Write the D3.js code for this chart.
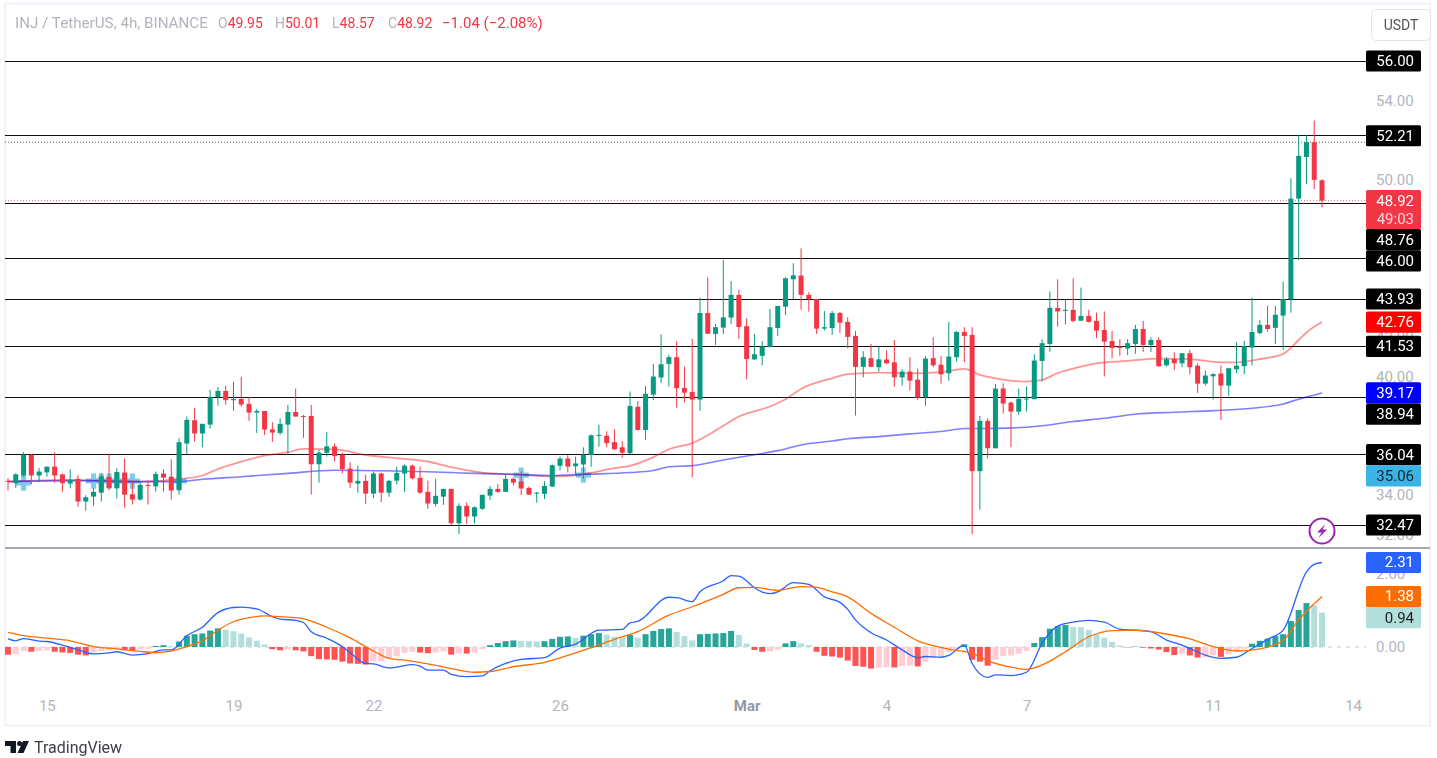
<!DOCTYPE html>
<html>
<head>
<meta charset="utf-8">
<script src="https://cdn.jsdelivr.net/npm/d3@7"></script>
<style>
  html, body { margin: 0; padding: 0; background: #fff; }
  svg { display: block; font-family: Roboto, sans-serif; filter: blur(0.4px); }
</style>
</head>
<body>
<div id="chart"></div>
<script>
// 4h candles
var open = [
  34.71,34.59,34.98,36.04,34.98,35.14,35.43,35.03,34.57,34.81,
  33.66,33.91,34.11,34.91,34.35,35.13,34.03,33.76,34.50,34.43,
  35.08,34.92,34.23,36.60,37.78,37.11,37.56,38.96,39.27,38.80,
  38.86,38.61,38.17,38.25,37.32,37.14,37.56,38.20,38.00,38.00,
  35.55,36.13,36.45,36.04,35.33,34.57,34.71,34.06,35.08,34.11,
  34.72,35.08,35.48,34.86,34.15,33.54,33.91,34.30,32.56,33.44,
  32.90,33.29,33.96,34.30,34.15,34.81,34.67,34.35,34.08,34.05,
  34.42,35.47,35.84,35.45,35.54,36.02,37.00,37.00,36.67,36.41,
  36.11,38.46,37.29,39.08,39.95,40.64,40.98,39.42,39.22,38.83,
  43.22,42.16,42.48,42.99,44.14,42.55,40.87,41.05,41.50,42.46,
  43.54,44.93,45.12,44.14,43.93,42.43,42.46,43.22,42.77,42.06,
  40.49,40.93,40.47,40.86,40.72,39.96,40.25,39.84,38.95,40.93,
  40.60,40.16,40.98,42.26,42.11,35.20,37.75,36.36,39.39,38.68,
  38.22,38.83,38.85,40.79,41.65,43.48,43.33,43.38,42.83,43.07,
  42.82,42.36,41.80,41.52,41.42,41.65,42.41,41.60,41.85,40.57,
  40.88,40.67,41.18,40.55,39.64,40.01,40.15,39.54,40.37,40.52,
  41.47,42.20,42.62,42.47,43.09,43.92,49.02,51.13,51.88,49.95];
var high = [
  34.84,35.09,36.16,36.04,35.35,35.43,36.16,35.09,35.30,35.01,
  33.98,34.33,35.09,36.06,35.35,35.84,34.67,34.67,34.72,35.18,
  35.30,35.80,36.87,37.97,38.41,37.60,39.32,39.47,39.54,39.74,
  39.99,38.95,38.36,38.25,37.68,37.88,38.56,39.39,38.05,38.56,
  36.28,37.19,36.61,36.14,35.65,35.48,35.03,35.18,35.13,34.76,
  35.43,35.54,35.54,35.43,34.72,34.82,34.30,34.30,33.57,33.62,
  33.41,34.00,34.45,34.55,35.01,34.86,35.18,34.42,34.15,34.69,
  35.54,35.94,36.01,35.94,36.41,37.06,37.55,37.22,37.33,36.72,
  39.24,38.76,39.52,40.64,42.14,41.10,41.79,40.50,41.91,44.00,
  45.03,42.66,45.91,44.83,44.39,42.95,42.16,41.80,43.42,43.58,
  45.03,45.74,46.50,44.27,43.93,43.32,43.32,43.27,43.00,42.31,
  41.28,41.65,41.52,41.33,41.85,40.37,40.98,40.40,41.03,41.99,
  41.03,42.77,42.31,42.50,42.50,38.00,37.88,39.62,39.66,38.73,
  39.39,39.49,41.13,41.89,44.31,44.93,43.92,44.98,44.51,43.38,
  43.24,43.30,42.31,41.89,41.89,42.62,42.82,41.99,41.99,40.98,
  41.23,41.18,41.35,40.67,40.30,40.17,40.55,40.45,41.74,41.81,
  44.00,42.87,43.60,43.58,44.81,50.05,52.25,52.25,52.98,50.01];
var low = [
  34.22,34.35,34.92,34.54,34.64,34.92,34.62,34.16,34.33,33.40,
  33.20,33.45,33.66,34.22,33.81,33.35,33.51,33.71,33.51,34.16,
  34.16,33.76,34.01,36.04,36.70,36.41,37.36,38.52,38.58,38.27,
  38.47,37.75,37.14,37.04,36.68,37.04,36.04,37.97,36.89,34.01,
  34.62,35.94,35.69,35.09,34.35,34.11,33.54,33.83,33.64,33.90,
  34.52,34.15,34.77,34.05,33.29,33.41,33.49,32.46,32.02,32.53,
  32.56,33.24,33.74,34.10,34.15,34.47,34.00,34.00,33.61,33.79,
  34.39,35.23,35.13,35.01,34.81,35.43,36.45,36.41,36.28,35.89,
  36.08,37.26,36.78,38.81,39.66,39.49,38.42,38.68,34.88,38.26,
  42.17,41.60,42.16,42.66,41.91,39.86,40.84,40.57,41.47,42.06,
  43.12,43.92,43.39,43.29,42.16,42.33,42.11,42.21,41.43,38.02,
  39.96,40.47,40.25,40.64,39.49,39.54,39.29,38.81,38.52,40.47,
  39.64,39.79,40.76,40.72,32.00,33.25,35.85,36.36,38.12,36.41,
  38.05,38.22,38.85,39.75,41.25,42.53,42.64,42.74,42.83,42.74,
  41.96,40.00,40.93,41.05,41.08,41.15,41.25,41.25,40.49,40.50,
  40.32,40.47,40.12,39.17,39.54,38.83,37.80,39.02,40.17,40.12,
  40.57,42.16,42.28,41.65,41.35,43.24,45.91,49.75,49.50,48.57];
var close = [
  34.67,35.04,36.04,34.98,35.18,35.43,34.98,34.59,34.76,33.66,
  33.88,34.15,34.94,34.35,35.16,34.01,33.76,34.50,34.47,35.06,
  34.87,34.22,36.67,37.80,37.11,37.60,38.95,39.27,38.80,38.86,
  38.58,38.17,38.25,37.31,37.16,37.60,38.20,37.97,37.97,35.55,
  36.14,36.46,35.97,35.30,34.62,34.71,34.06,35.08,34.11,34.71,
  35.11,35.48,34.84,34.11,33.56,33.95,34.30,32.56,33.44,32.90,
  33.37,34.00,34.30,34.15,34.81,34.62,34.32,34.01,34.11,34.45,
  35.50,35.84,35.43,35.59,36.04,37.02,37.04,36.62,36.31,36.14,
  38.51,37.29,39.12,40.00,40.62,40.98,39.41,39.18,38.83,43.22,
  42.17,42.50,43.00,44.14,42.51,40.89,41.13,41.52,42.50,43.58,
  44.98,45.13,44.14,43.92,42.43,42.50,43.22,42.73,42.01,40.49,
  40.98,40.49,40.87,40.67,39.96,40.25,39.79,38.93,40.91,40.57,
  40.11,41.01,42.26,42.06,35.20,37.75,36.36,39.39,38.63,38.22,
  38.87,38.88,40.81,41.69,43.48,43.30,43.38,42.82,43.07,42.77,
  42.33,41.77,41.45,41.45,41.69,42.41,41.60,41.85,40.52,40.88,
  40.67,41.18,40.47,39.64,40.05,40.12,39.54,40.42,40.55,41.54,
  42.26,42.62,42.41,43.13,43.92,49.02,51.19,51.88,49.97,48.92];

// moving averages as [candle, price]
var emaFast = [[0,34.67],[8,34.76],[17,34.67],[22,34.79],[25,34.98],[27,35.31],[30,35.68],[33,35.99],[36,36.16],[38,36.33],
  [42,36.31],[46,36.02],[50,35.86],[54,35.69],[57,35.40],[61,35.13],[65,35.04],[70,34.93],[74,35.04],[78,35.35],[80,35.47],
  [83,35.91],[85,36.31],[88,36.62],[92,37.50],[94,37.97],[98,38.48],[100,38.85],[102,39.37],[106,39.91],[108,40.12],[112,40.20],
  [116,40.16],[120,40.22],[123,40.39],[125,40.08],[127,39.91],[131,39.74],[133,39.83],[135,40.17],[138,40.50],[140,40.67],
  [144,40.79],[148,40.91],[152,40.88],[156,40.72],[158,40.72],[161,40.88],[164,41.15],[166,41.85],[167,42.23],[169,42.76]];
var emaSlow = [[0,34.67],[8,34.72],[17,34.67],[22,34.67],[25,34.79],[30,34.92],[36,35.09],[42,35.25],[50,35.21],[60,35.09],
  [65,35.04],[70,34.98],[74,35.04],[80,35.13],[83,35.23],[85,35.42],[88,35.48],[92,35.77],[96,36.03],[99,36.24],[102,36.53],
  [106,36.73],[108,36.84],[112,36.95],[116,37.09],[120,37.21],[123,37.36],[127,37.37],[133,37.50],[137,37.72],[141,37.88],
  [145,38.09],[150,38.19],[155,38.27],[160,38.39],[164,38.61],[166,38.85],[169,39.17]];
var crossCandles = [2, 11, 12, 13, 14, 15, 16, 22, 66, 74];
var crossPrice = [34.6, 34.7, 34.7, 34.7, 34.7, 34.7, 34.7, 34.7, 35.0, 35.0];

// MACD pane
var macdHist = [
  -.21,-.20,-.11,-.13,-.11,-.09,-.13,-.15,-.16,-.21,
  -.23,-.15,-.11,-.09,-.07,-.09,-.11,-.07,-.05,.03,
  .05,.02,.15,.31,.35,.37,.45,.51,.47,.43,
  .37,.26,.17,.07,-.06,-.09,-.07,-.09,-.12,-.25,
  -.33,-.34,-.35,-.40,-.45,-.46,-.48,-.40,-.39,-.33,
  -.25,-.16,-.13,-.15,-.17,-.15,-.12,-.21,-.17,-.18,
  -.15,-.06,.05,.11,.16,.18,.17,.16,.15,.16,
  .22,.28,.29,.25,.31,.35,.38,.34,.28,.25,
  .33,.25,.35,.44,.49,.51,.41,.30,.18,.35,
  .36,.37,.38,.44,.33,.10,-.08,-.13,-.12,-.07,
  .10,.16,.10,.05,-.13,-.24,-.26,-.29,-.37,-.52,
  -.54,-.59,-.57,-.55,-.56,-.52,-.51,-.53,-.40,-.30,
  -.25,-.14,-.05,.07,-.35,-.40,-.51,-.35,-.25,-.23,
  -.18,-.11,.11,.27,.50,.57,.60,.55,.54,.47,
  .35,.25,.14,.04,-.01,.01,-.02,-.04,-.07,-.14,
  -.22,-.18,-.23,-.29,-.27,-.23,-.27,-.20,-.11,-.05,
  .09,.17,.23,.30,.35,.71,1.01,1.20,1.14,.94];
var macdLine = [[0,.22],[1,.17],[2,.23],[4,.16],[5,.15],[7,.05],[9,-.08],[11,-.19],[13,-.16],[14,-.13],[16,-.22],[18,-.18],[20,-.08],[21,-.08],
  [23,.31],[25,.54],[27,.94],[29,1.08],[30,1.09],[32,1.04],[34,.83],[35,.76],[37,.73],[38,.67],[39,.42],[41,.24],[43,.01],[44,-.15],[46,-.45],
  [47,-.46],[49,-.57],[50,-.55],[52,-.48],[53,-.52],[54,-.63],[56,-.63],[57,-.75],[59,-.81],[61,-.79],[62,-.65],[64,-.45],[66,-.34],[69,-.29],
  [71,-.03],[73,.08],[76,.46],[79,.48],[80,.66],[81,.70],[85,1.36],[86,1.35],[88,1.24],[89,1.51],[92,1.81],[93,1.95],[94,1.94],[96,1.62],[97,1.50],
  [98,1.46],[99,1.51],[101,1.76],[103,1.71],[105,1.37],[107,1.22],[108,1.03],[109,.74],[111,.39],[113,.19],[115,-.08],[117,-.29],[118,-.26],[120,-.28],
  [121,-.23],[123,.05],[124,-.45],[126,-.83],[127,-.76],[129,-.78],[131,-.69],[133,.10],[134,.39],[135,.57],[137,.68],[139,.73],[141,.68],[143,.49],
  [145,.46],[147,.42],[149,.19],[151,.05],[152,-.04],[154,-.22],[156,-.31],[158,-.28],[160,-.04],[162,.21],[164,.46],[167,2.05],[168,2.26],[169,2.31]];
var signalLine = [[0,.40],[2,.31],[5,.24],[8,.17],[11,.01],[14,-.05],[17,-.12],[19,-.15],[21,-.11],[23,.01],[25,.17],[27,.46],[29,.69],[31,.80],[33,.85],
  [35,.83],[38,.77],[41,.54],[44,.25],[47,-.11],[49,-.31],[51,-.36],[54,-.46],[57,-.59],[60,-.69],[62,-.67],[65,-.54],[69,-.42],[72,-.23],[75,-.02],
  [78,.21],[81,.42],[85,.87],[88,1.10],[92,1.44],[94,1.62],[96,1.63],[99,1.55],[102,1.65],[104,1.63],[106,1.51],[108,1.37],[111,.92],[114,.54],[117,.17],
  [119,.04],[121,-.06],[124,-.17],[126,-.37],[129,-.55],[131,-.61],[133,-.49],[136,-.13],[139,.28],[142,.45],[145,.46],[148,.39],[152,.22],[155,.01],
  [158,-.11],[161,-.05],[164,.17],[166,.74],[169,1.38]];

var levels = [56, 52.21, 48.76, 46, 43.93, 41.53, 38.94, 36.04, 32.47];
var priceTicks = [54, 50, 42, 40, 34, 32];
var macdTicks = [2, 0];
var dayCandles = [5, 29, 47, 71, 95, 113, 131, 155, 173];
var dayLabels = ['15', '19', '22', '26', 'Mar', '4', '7', '11', '14'];
var lastPrice = 48.92, dayHigh = 51.88, emaFastLast = 42.76, emaSlowLast = 39.17, crossLast = 35.06;
var macdLast = 2.31, signalLast = 1.38, histLast = 0.94;

var up = '#089981', down = '#f23645', grey = '#b2b5be', plotRight = 1366, tagRight = 1421;

var svg = d3.select('#chart').append('svg').attr('width', 1437).attr('height', 758);

var x = d3.scaleLinear().domain([0, 169]).range([8, 1322]);
var y = d3.scaleLinear().domain([56, 32.47]).range([61, 525]);
var yMacd = d3.scaleLinear().domain([0, 2.31]).range([647, 562.5]);

// frame
svg.append('rect').attr('x', 5).attr('y', 3.5).attr('width', 1425).attr('height', 722)
  .attr('fill', '#fff').attr('stroke', '#f0f3fa').attr('stroke-width', 2);
svg.append('line').attr('x1', 5).attr('x2', 1430).attr('y1', 548).attr('y2', 548)
  .attr('stroke', '#8a8d96').attr('stroke-width', 1.5);

// zero line + dotted price lines
svg.append('line').attr('x1', 5).attr('x2', plotRight).attr('y1', yMacd(0)).attr('y2', yMacd(0))
  .attr('stroke', '#c8cad0').attr('stroke-dasharray', '4 5');
svg.append('line').attr('x1', 5).attr('x2', plotRight).attr('y1', y(dayHigh)).attr('y2', y(dayHigh))
  .attr('stroke', '#555').attr('stroke-dasharray', '1 2');
svg.append('line').attr('x1', 5).attr('x2', plotRight).attr('y1', y(lastPrice)).attr('y2', y(lastPrice))
  .attr('stroke', down).attr('stroke-opacity', .7).attr('stroke-dasharray', '1 2');

// support / resistance
svg.append('g').selectAll('line').data(levels).join('line')
  .attr('x1', 5).attr('x2', plotRight)
  .attr('y1', d => Math.floor(y(d)) + .5).attr('y2', d => Math.floor(y(d)) + .5)
  .attr('stroke', '#111');

// EMA cross markers
svg.append('g').selectAll('path').data(crossCandles).join('path')
  .attr('d', d3.symbol(d3.symbolCross, 130))
  .attr('transform', (d, i) => 'translate(' + x(d) + ',' + y(crossPrice[i]) + ')')
  .attr('fill', '#7fcbee');

var emaPath = d3.line().x(d => x(d[0])).y(d => y(d[1])).curve(d3.curveMonotoneX);
svg.append('path').datum(emaFast).attr('d', emaPath).attr('fill', 'none')
  .attr('stroke', '#ff0000').attr('stroke-opacity', .42).attr('stroke-width', 1.8);
svg.append('path').datum(emaSlow).attr('d', emaPath).attr('fill', 'none')
  .attr('stroke', '#0000ff').attr('stroke-opacity', .5).attr('stroke-width', 1.6);

// candles
var candle = svg.append('g').selectAll('g').data(d3.range(open.length)).join('g')
  .attr('fill', i => close[i] >= open[i] ? up : down)
  .attr('stroke', i => close[i] >= open[i] ? up : down);
candle.append('line')
  .attr('x1', i => x(i)).attr('x2', i => x(i))
  .attr('y1', i => y(high[i])).attr('y2', i => y(low[i]))
  .attr('stroke-width', 1);
candle.append('rect')
  .attr('x', i => x(i) - 2.5).attr('width', 5)
  .attr('y', i => y(Math.max(open[i], close[i])))
  .attr('height', i => Math.max(1, Math.abs(y(open[i]) - y(close[i]))))
  .attr('stroke', 'none');

// MACD histogram
function histColor(v, i) {
  var rising = i > 0 && v > macdHist[i - 1];
  if (v >= 0) return rising ? '#26a69a' : '#b2dfdb';
  return rising ? '#ffcdd2' : '#ff5252';
}
svg.append('g').selectAll('rect').data(macdHist).join('rect')
  .attr('x', (d, i) => x(i) - 3).attr('width', 6)
  .attr('y', d => Math.min(yMacd(d), yMacd(0)))
  .attr('height', d => Math.abs(yMacd(d) - yMacd(0)))
  .attr('fill', histColor);

var macdPath = d3.line().x(d => x(d[0])).y(d => yMacd(d[1])).curve(d3.curveMonotoneX);
svg.append('path').datum(macdLine).attr('d', macdPath).attr('fill', 'none').attr('stroke', '#2962ff').attr('stroke-width', 1.3);
svg.append('path').datum(signalLine).attr('d', macdPath).attr('fill', 'none').attr('stroke', '#ff6d00').attr('stroke-width', 1.3);

// axes: plain grey labels first, the tags sit on top of them
var yAxis = d3.axisRight(y).tickValues(priceTicks).tickFormat(d3.format('.2f')).tickSize(0).tickPadding(0);
svg.append('g').attr('transform', 'translate(1376,0)').call(yAxis)
  .call(g => g.select('.domain').remove())
  .call(g => g.selectAll('text').attr('fill', grey).attr('font-size', 15).attr('font-family', 'Roboto'));
var mAxis = d3.axisRight(yMacd).tickValues(macdTicks).tickFormat(d3.format('.2f')).tickSize(0).tickPadding(0);
svg.append('g').attr('transform', 'translate(1376,0)').call(mAxis)
  .call(g => g.select('.domain').remove())
  .call(g => g.selectAll('text').attr('fill', grey).attr('font-size', 15).attr('font-family', 'Roboto'));
var xAxis = d3.axisBottom(x).tickValues(dayCandles).tickFormat((d, i) => dayLabels[i]).tickSize(0).tickPadding(0);
svg.append('g').attr('transform', 'translate(0,700)').call(xAxis)
  .call(g => g.select('.domain').remove())
  .call(g => g.selectAll('text').attr('fill', (d, i) => dayLabels[i] === 'Mar' ? '#9598a1' : grey)
    .attr('font-weight', (d, i) => dayLabels[i] === 'Mar' ? 700 : 400)
    .attr('font-size', 15).attr('font-family', 'Roboto'));

// price tags, stacked so they never overlap
function drawTags(tags) {
  tags.sort((a, b) => a.y - b.y);
  var bottom = -Infinity;
  tags.forEach(function (t) {
    var h = t.sub ? 39 : 21.2;
    var top = Math.max(t.y - 10.6, bottom);
    bottom = top + h;
    svg.append('rect').attr('x', plotRight).attr('y', top).attr('width', tagRight - plotRight).attr('height', h)
      .attr('rx', 1.5).attr('fill', t.bg);
    svg.append('text').attr('x', 1414).attr('y', top + 15.5).attr('text-anchor', 'end')
      .attr('font-size', 15).attr('fill', t.fg).text(t.text);
    if (t.sub) svg.append('text').attr('x', 1414).attr('y', top + 34).attr('text-anchor', 'end')
      .attr('font-size', 15).attr('fill', t.fg).attr('fill-opacity', .8).text(t.sub);
  });
}
var tags = levels.map(d => ({ y: y(d), text: d3.format('.2f')(d), bg: '#000', fg: '#fff' }));
tags.push({ y: y(lastPrice), text: lastPrice.toFixed(2), sub: '49:03', bg: down, fg: '#fff' });
tags.push({ y: y(emaFastLast), text: emaFastLast.toFixed(2), bg: '#ff0000', fg: '#fff' });
tags.push({ y: y(emaSlowLast), text: emaSlowLast.toFixed(2), bg: '#0000ff', fg: '#fff' });
tags.push({ y: y(crossLast), text: crossLast.toFixed(2), bg: '#3bb3e4', fg: '#123' });
drawTags(tags);
drawTags([
  { y: yMacd(macdLast), text: macdLast.toFixed(2), bg: '#2962ff', fg: '#fff' },
  { y: yMacd(signalLast), text: signalLast.toFixed(2), bg: '#ff6d00', fg: '#fff' },
  { y: yMacd(histLast), text: histLast.toFixed(2), bg: '#b2dfdb', fg: '#222' }
]);

// header
var head = svg.append('text').attr('y', 28).attr('font-size', 14);
head.append('tspan').attr('x', 15).attr('fill', grey).attr('font-size', 15.2).text('INJ / TetherUS, 4h, BINANCE');
[['O', '49.95', 218], ['H', '50.01', 275], ['L', '48.57', 332], ['C', '48.92', 388]].forEach(function (p) {
  head.append('tspan').attr('x', p[2]).attr('fill', grey).text(p[0]);
  head.append('tspan').attr('fill', down).text(p[1]);
});
head.append('tspan').attr('x', 442).attr('fill', down).attr('font-size', 15).text('\u22121.04 (\u22122.08%)');

// currency button
svg.append('rect').attr('x', 1371.5).attr('y', 9.5).attr('width', 59).attr('height', 31).attr('rx', 5)
  .attr('fill', '#fff').attr('stroke', '#e0e3eb');
svg.append('text').attr('x', 1401).attr('y', 30).attr('text-anchor', 'middle').attr('font-size', 14)
  .attr('fill', '#555').text('USDT');

// purple lightning badge
var badge = svg.append('g').attr('transform', 'translate(1322,531)');
badge.append('circle').attr('r', 12.5).attr('fill', '#fff').attr('stroke', '#9c27b0').attr('stroke-width', 2);
badge.append('path').attr('d', 'M3.5,-7 L-5,1.5 L-0.5,1.5 L-3.5,7 L5,-1.5 L0.5,-1.5 Z').attr('fill', '#9c27b0');

// TradingView mark
var logo = svg.append('g').attr('transform', 'translate(5,741)').attr('fill', '#131722');
logo.append('path').attr('d', 'M0,0 H11 V12 H5.5 V5 H0 Z');
logo.append('circle').attr('cx', 14.5).attr('cy', 2.5).attr('r', 2.5);
logo.append('path').attr('d', 'M18,0 H24 L18.5,12 H12.5 Z');
svg.append('text').attr('x', 34).attr('y', 753).attr('font-size', 16).attr('fill', '#3c3f47').text('TradingView');
</script>
</body>
</html>
